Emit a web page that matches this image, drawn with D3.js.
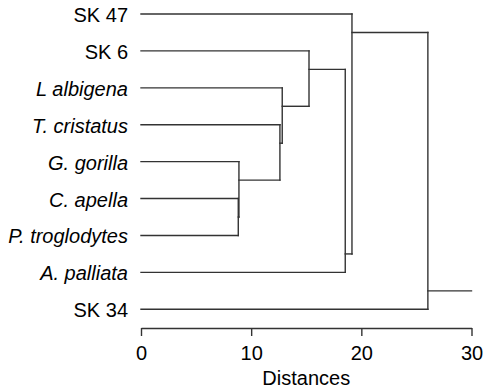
<!DOCTYPE html>
<html>
<head>
<meta charset="utf-8">
<script src="https://cdn.jsdelivr.net/npm/d3@7"></script>
<style>
  body { margin: 0; background: #fff; }
  svg { display: block; font-family: "Liberation Sans", Arial, sans-serif; }
</style>
</head>
<body>
<div id="chart"></div>
<script>
// leaves top to bottom
const leaves = ["SK 47", "SK 6", "L albigena", "T. cristatus", "G. gorilla",
  "C. apella", "P. troglodytes", "A. palliata", "SK 34"];
const italicLeaves = ["L albigena", "T. cristatus", "G. gorilla", "C. apella",
  "P. troglodytes", "A. palliata"];
// each merge joins two children: a leaf name or the index of an earlier merge
const mergeChildren = [
  ["C. apella", "P. troglodytes"],
  ["G. gorilla", 0],
  ["T. cristatus", 1],
  ["L albigena", 2],
  ["SK 6", 3],
  [4, "A. palliata"],
  ["SK 47", 5],
  [6, "SK 34"]
];
const mergeHeights = [8.83, 8.89, 12.61, 12.82, 15.25, 18.54, 19.15, 26.04];
const distanceTicks = [0, 10, 20, 30];

const width = 486, height = 389;
const svg = d3.select("#chart").append("svg")
  .attr("width", width)
  .attr("height", height);

const x = d3.scaleLinear().domain([0, 30]).range([141, 471.5]);
const y = d3.scalePoint().domain(leaves).range([14, 309.3]);

const lineColor = "#333";

// work out node positions
function leafNode(name) {
  const i = leaves.indexOf(name);
  return { y: y(name), h: 0, first: i, last: i };
}
const nodes = [];
mergeChildren.forEach((pair, i) => {
  const kids = pair.map(c => typeof c === "number" ? nodes[c] : leafNode(c))
    .sort((a, b) => a.first - b.first);
  const top = kids[0], bottom = kids[1];
  // the outgoing branch sits on the border between the two children
  const ny = (y(leaves[top.last]) + y(leaves[bottom.first])) / 2;
  nodes.push({ y: ny, h: mergeHeights[i], first: top.first, last: bottom.last, kids });
});

// segments
const segs = [];
nodes.forEach(n => {
  segs.push([x(n.h), n.kids[0].y, x(n.h), n.kids[1].y]);
  n.kids.forEach(k => segs.push([x(k.h), k.y, x(n.h), k.y]));
});
const root = nodes[nodes.length - 1];
segs.push([x(root.h), root.y, x(x.domain()[1]), root.y]);

svg.append("g").selectAll("line")
  .data(segs)
  .enter()
  .append("line")
  .attr("x1", d => d[0])
  .attr("y1", d => d[1])
  .attr("x2", d => d[2])
  .attr("y2", d => d[3])
  .attr("stroke", lineColor)
  .attr("stroke-width", 1.4)
  .attr("stroke-linecap", "square");

// leaf labels
svg.append("g").selectAll("text")
  .data(leaves)
  .enter()
  .append("text")
  .attr("x", 128)
  .attr("y", d => y(d) + 8)
  .attr("text-anchor", "end")
  .style("font-size", "20px")
  .style("font-style", d => italicLeaves.includes(d) ? "italic" : "normal")
  .text(d => d);

// axis
const axis = svg.append("g")
  .attr("transform", "translate(0,328)")
  .call(d3.axisBottom(x).tickValues(distanceTicks).tickSize(8).tickSizeOuter(0).tickPadding(10));
axis.select(".domain").attr("stroke", lineColor).attr("stroke-width", 1.4);
axis.selectAll(".tick line").attr("stroke", lineColor).attr("stroke-width", 1.4);
axis.selectAll(".tick text")
  .attr("fill", "#000")
  .style("font-size", "20px")
  .style("font-family", "'Liberation Sans', Arial, sans-serif");

svg.append("text")
  .attr("x", (x(0) + x(30)) / 2)
  .attr("y", 385)
  .attr("text-anchor", "middle")
  .style("font-size", "20px")
  .text("Distances");
</script>
</body>
</html>
